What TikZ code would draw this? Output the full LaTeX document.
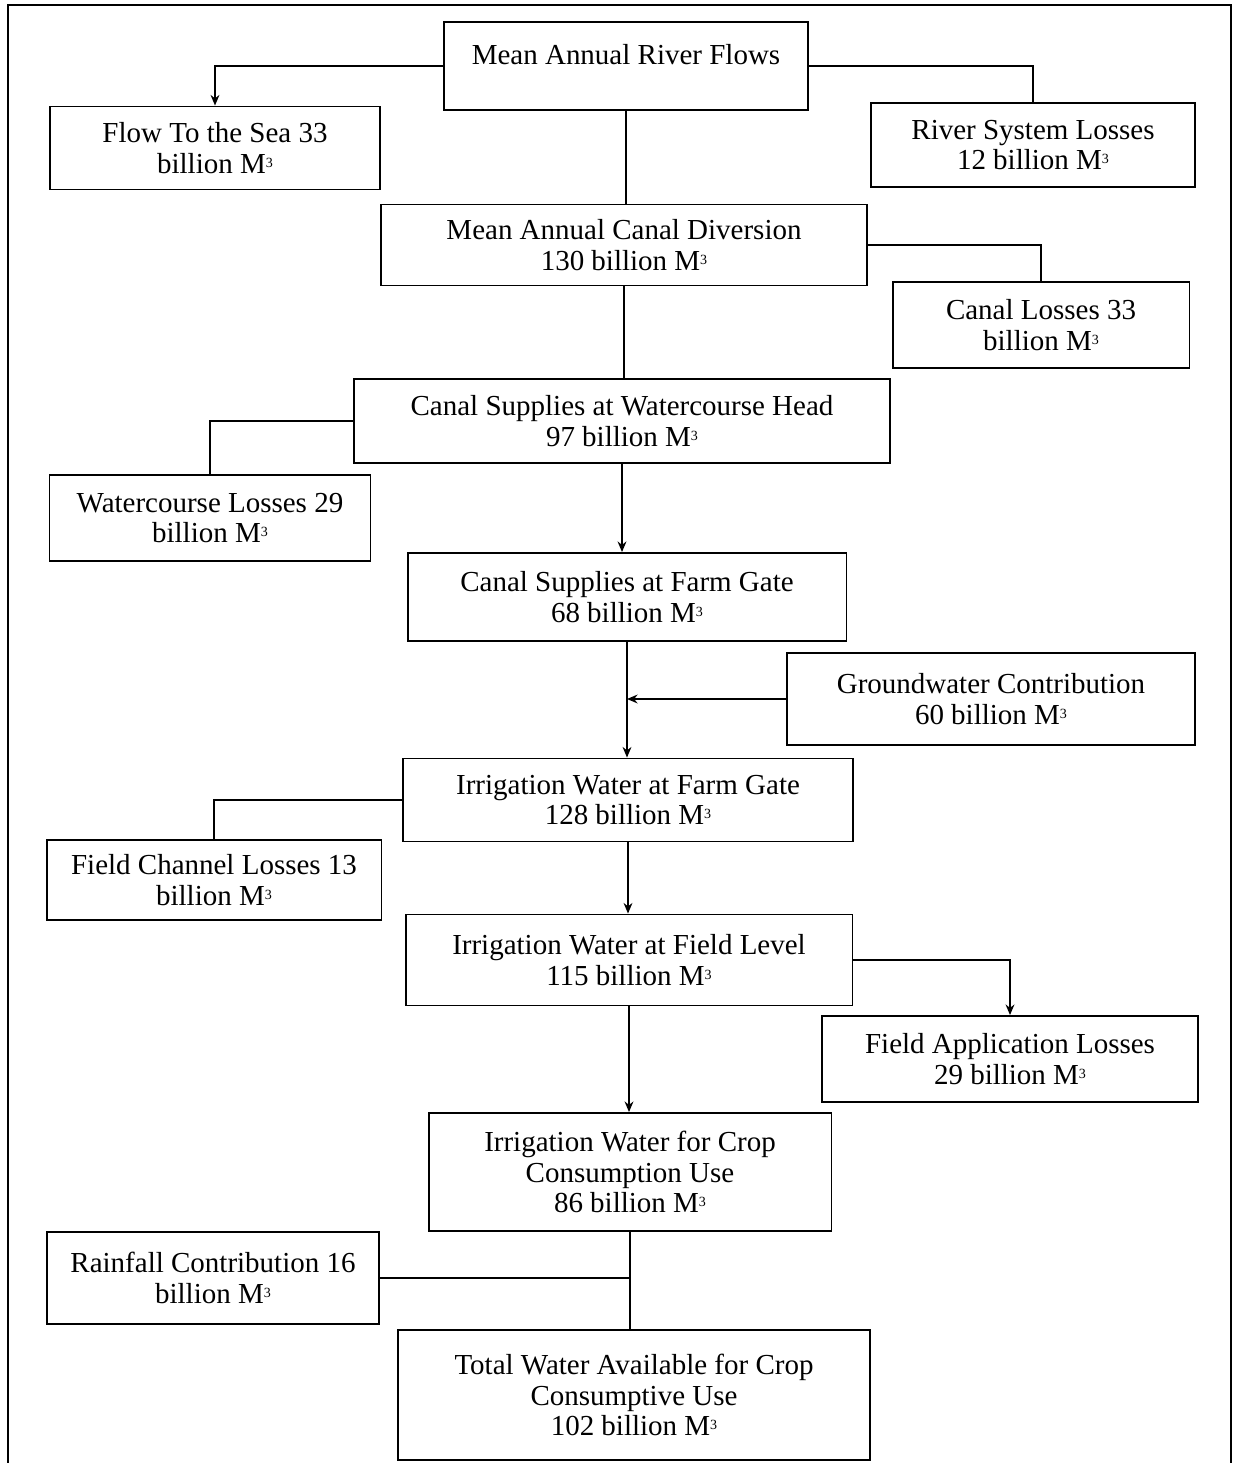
\documentclass[tikz,border=0pt]{standalone}
\usepackage{fontspec}
\setmainfont{Liberation Serif}
\usetikzlibrary{positioning, arrows.meta}
\newcommand{\bcm}{billion M\raisebox{0.45ex}{\fontsize{8}{8}\selectfont 3}}

\begin{document}
\begin{tikzpicture}[x=0.02cm, y=-0.02cm,
    flowbox/.style={draw, line width=1.1pt, align=center, inner sep=2pt,
      font=\fontsize{16.5}{17.5}\selectfont},
    link/.style={line width=1.1pt},
    arrow/.style={link, -{Stealth[length=6pt, width=5pt]}},
  ]
    \useasboundingbox (0,0) rectangle (1233,1463);
    \draw[line width=1.4pt] (8,1463) -- (8,5) -- (1231,5) -- (1231,1463);

    \node[flowbox, minimum width=7.28cm, minimum height=1.76cm, text depth=0.45cm] (river) at (626,66) {Mean Annual River Flows};
    \node[flowbox, minimum width=6.6cm, minimum height=1.66cm] (sea) at (215,148) {Flow To the Sea 33\\ \bcm};
    \node[flowbox, minimum width=6.48cm, minimum height=1.68cm] (rivloss) at (1033,145) {River System Losses\\ 12 \bcm};
    \node[flowbox, minimum width=9.74cm, minimum height=1.62cm] (diversion) at (624,245) {Mean Annual Canal Diversion\\ 130 \bcm};
    \node[flowbox, minimum width=5.94cm, minimum height=1.72cm] (canalloss) at (1041,325) {Canal Losses 33\\ \bcm};
    \node[flowbox, minimum width=10.72cm, minimum height=1.68cm] (wchead) at (622,421) {Canal Supplies at Watercourse Head\\ 97 \bcm};
    \node[flowbox, minimum width=6.42cm, minimum height=1.72cm] (wcloss) at (210,518) {Watercourse Losses 29\\ \bcm};
    \node[flowbox, minimum width=8.78cm, minimum height=1.76cm] (farmgate) at (627,597) {Canal Supplies at Farm Gate\\ 68 \bcm};
    \node[flowbox, minimum width=8.16cm, minimum height=1.84cm] (ground) at (991,699) {Groundwater Contribution\\ 60 \bcm};
    \node[flowbox, minimum width=9cm, minimum height=1.66cm] (irrgate) at (628,800) {Irrigation Water at Farm Gate\\ 128 \bcm};
    \node[flowbox, minimum width=6.7cm, minimum height=1.6cm] (fcloss) at (214,880) {Field Channel Losses 13\\ \bcm};
    \node[flowbox, minimum width=8.94cm, minimum height=1.82cm] (fieldlvl) at (629,960) {Irrigation Water at Field Level\\ 115 \bcm};
    \node[flowbox, minimum width=7.52cm, minimum height=1.72cm] (faloss) at (1010,1059) {Field Application Losses\\ 29 \bcm};
    \node[flowbox, minimum width=8.06cm, minimum height=2.36cm] (crop) at (630,1172) {Irrigation Water for Crop\\ Consumption Use\\ 86 \bcm};
    \node[flowbox, minimum width=6.64cm, minimum height=1.84cm] (rain) at (213,1278) {Rainfall Contribution 16\\ \bcm};
    \node[flowbox, minimum width=9.44cm, minimum height=2.6cm] (total) at (634,1395) {Total Water Available for Crop\\ Consumptive Use\\ 102 \bcm};

    \draw[arrow] (river.west) -| (sea.north);
    \draw[link] (river.east) -| (rivloss.north);
    \draw[link] (river.south) -- (river.south |- diversion.north);
    \draw[link] (diversion.east) -| (canalloss.north);
    \draw[link] (diversion.south) -- (diversion.south |- wchead.north);
    \draw[link] (wchead.west) -| (wcloss.north);
    \draw[arrow] (wchead.south) -- (wchead.south |- farmgate.north);
    \draw[arrow] (farmgate.south) -- (farmgate.south |- irrgate.north);
    \draw[arrow] (ground.west) -- (farmgate.south |- ground.west);
    \draw[link] (irrgate.west) -| (fcloss.north);
    \draw[arrow] (irrgate.south) -- (irrgate.south |- fieldlvl.north);
    \draw[arrow] (fieldlvl.east) -| (faloss.north);
    \draw[arrow] (fieldlvl.south) -- (fieldlvl.south |- crop.north);
    \draw[link] (crop.south) -- (crop.south |- total.north);
    \draw[link] (rain.east) -- (crop.south |- rain.east);
  \end{tikzpicture}
\end{document}
